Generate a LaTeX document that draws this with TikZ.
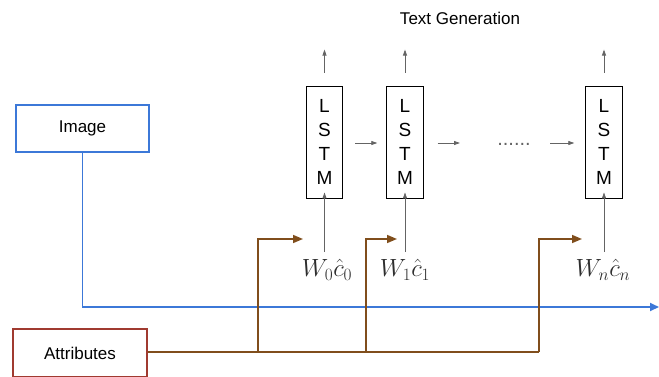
\documentclass[tikz,border=0pt]{standalone}
\usepackage{fontspec}
\setmainfont{Liberation Sans}
\usetikzlibrary{arrows.meta}
\definecolor{imgblue}{RGB}{60,120,216}
\definecolor{attrbrown}{RGB}{128,78,28}
\definecolor{attrred}{RGB}{160,58,48}
\definecolor{flowgray}{RGB}{100,100,100}
\tikzset{
  inbox/.style={draw, line width=1.6pt, minimum width=133pt, minimum height=47pt,
    inner sep=0pt, font=\fontsize{17}{20}\selectfont},
  cell/.style={draw, line width=0.9pt, minimum width=36.5pt, minimum height=112pt,
    inner sep=0pt, align=center, font=\fontsize{19}{24}\selectfont},
  flow/.style={draw=flowgray, line width=0.8pt, -{Triangle[length=6pt,width=4pt]}},
  feed/.style={draw=attrbrown, line width=1.6pt},
  feedarrow/.style={feed, -{Triangle[length=10pt,width=8pt]}},
  imgline/.style={draw=imgblue, line width=1.8pt, -{Triangle[length=9pt,width=8pt]}},
  wlabel/.style={inner sep=0pt, text=black!82, font=\fontsize{24}{28}\selectfont}
}
\begin{document}
\begin{tikzpicture}[x=1pt, y=-1pt]
\useasboundingbox (0,0) rectangle (659,376);
\clip (0,0) rectangle (659,376);

% inputs
\node[inbox, draw=imgblue] (img) at (82.5,128.5) {Image};
\node[inbox, draw=attrred, minimum width=134pt, minimum height=48pt] (attr) at (80,353) {Attributes};

% LSTM cells
\node[cell] (l0) at (324.5,142) {L\\S\\T\\M};
\node[cell] (l1) at (405,142) {L\\S\\T\\M};
\node[cell] (ln) at (604,142) {L\\S\\T\\M};

\node[font=\fontsize{17}{20}\selectfont] (title) at (460,18) {Text Generation};

% outputs of each cell
\draw[flow] ([yshift=13pt]l0.north) -- ++(0,-23);
\draw[flow] ([yshift=13pt]l1.north) -- ++(0,-23);
\draw[flow] ([yshift=13pt]ln.north) -- ++(0,-23);

% recurrence between cells
\coordinate (r1) at (437,143);
\coordinate (r2) at (460,143);
\coordinate (r3) at (550,143);
\draw[flow] ([xshift=12pt]l0.east |- r1) -- ([xshift=-9pt]l1.west |- r1);
\draw[flow] ([xshift=14pt]l1.east |- r1) -- (r2);
\node[text=flowgray, anchor=base, inner sep=0pt, font=\fontsize{20}{20}\selectfont] (dots) at (514,145) {......};
\draw[flow] (r3) -- ([xshift=-11pt]ln.west |- r3);

% weighted attribute inputs
\node[wlabel] (w0) at (327,270) {$W_0\hat{c}_0$};
\node[wlabel] (w1) at (405,270) {$W_1\hat{c}_1$};
\node[wlabel] (wn) at (603,270) {$W_n\hat{c}_n$};
\draw[flow] (l0.south |- 0,252) -- ([yshift=6pt]l0.south);
\draw[flow] (l1.south |- 0,252) -- ([yshift=6pt]l1.south);
\draw[flow] (ln.south |- 0,252) -- ([yshift=6pt]ln.south);

% image feature line
\coordinate (imgend) at (659,307);
\draw[imgline] (img.south) |- (imgend);

% attribute feed lines
\coordinate (j0) at (258,352);
\coordinate (j1) at (366,352);
\coordinate (jn) at (539,352);
\coordinate (a0) at (303,239);
\coordinate (a1) at (397,239);
\coordinate (an) at (582,239);
\draw[feed] (attr.east |- j0) -- (jn);
\draw[feedarrow] (j0) |- (a0);
\draw[feedarrow] (j1) |- (a1);
\draw[feedarrow] (jn) |- (an);
\end{tikzpicture}
\end{document}
